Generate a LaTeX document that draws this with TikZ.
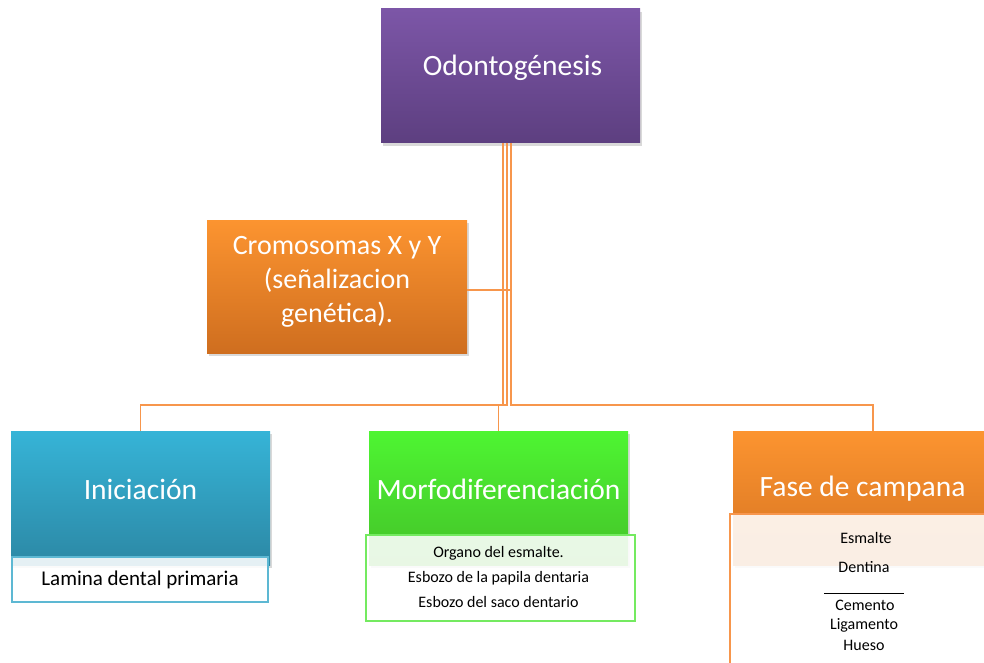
\documentclass[tikz,border=0pt]{standalone}
\usepackage{fontspec}
\setmainfont{Carlito}
\usetikzlibrary{positioning,shadows}

\definecolor{moradoA}{HTML}{7C56A7}
\definecolor{moradoB}{HTML}{5D3F80}
\definecolor{naranjaA}{HTML}{FC9430}
\definecolor{naranjaB}{HTML}{CF6E1F}
\definecolor{azulA}{HTML}{36B4D7}
\definecolor{azulB}{HTML}{2C88A5}
\definecolor{verdeA}{HTML}{4EF532}
\definecolor{verdeB}{HTML}{44C229}
\definecolor{lineaNar}{HTML}{F7964C}
\definecolor{bordeAzul}{HTML}{5DB8D3}
\definecolor{bordeVerde}{HTML}{74EA60}

\tikzset{
  caja/.style={rectangle, inner sep=0pt, minimum width=259pt, minimum height=134pt,
    drop shadow={opacity=0.3, shadow xshift=1.5pt, shadow yshift=-3pt}},
  rotulo/.style={text=white, font=\fontsize{29.5}{34}\selectfont, align=center},
  subcaja/.style={rectangle, inner sep=0pt, fill=white, fill opacity=0.88, line width=1.5pt},
  item/.style={text=black, font=\fontsize{16}{18}\selectfont},
  linea/.style={draw=lineaNar, line width=1.6pt},
}

\begin{document}
\begin{tikzpicture}[x=1pt,y=-1pt]
  \useasboundingbox (0,0) rectangle (984,663);

  \def\xi{140.5};
  \def\xm{498.5};
  \def\xf{873};
  \def\yb{498};

  % boxes
  \node[caja, top color=moradoA, bottom color=moradoB,
        label={[rotulo, name=odontoT, yshift=8pt, xshift=2pt]center:Odontogénesis}]
        (odonto) at (510.5,76) {};
  \node[caja, minimum width=260pt, minimum height=133pt, top color=naranjaA, bottom color=naranjaB,
        label={[rotulo, name=cromT, yshift=5pt, font=\fontsize{28}{34}\selectfont]center:Cromosomas X y Y\\(señalizacion\\genética).}]
        (crom) at (337,286.5) {};

  \node[caja, top color=azulA, bottom color=azulB,
        label={[rotulo, name=iniT, yshift=9pt]center:Iniciación}]
        (ini) at (\xi,\yb) {};
  \node[caja, top color=verdeA, bottom color=verdeB,
        label={[rotulo, name=morfoT, yshift=9pt]center:Morfodiferenciación}]
        (morfo) at (\xm,\yb) {};
  \node[caja, minimum width=280pt, top color=naranjaA, bottom color=naranjaB!85!naranjaA,
        label={[rotulo, name=faseT, yshift=9pt, xshift=-10.5pt]center:Fase de campana}]
        (fase) at (\xf,\yb) {};

  % sub boxes
  \node[subcaja, draw=bordeAzul, minimum width=256pt, minimum height=45pt] (lamina) at (140,579.5) {};
  \node[item, font=\fontsize{21}{24}\selectfont] (laminaT) at (lamina) {Lamina dental primaria};

  \node[subcaja, draw=bordeVerde, minimum width=269pt, minimum height=86pt] (morfoSub) at (500.5,578) {};
  \node[item] (organo) at (\xm,553) {Organo del esmalte.};
  \node[item] (papila) at (\xm,578) {Esbozo de la papila dentaria};
  \node[item] (saco) at (\xm,602) {Esbozo del saco dentario};

  \node[subcaja, draw=lineaNar, minimum width=270pt, minimum height=180pt] (faseSub) at (865,604) {};
  \node[item] (esmalte) at (866,538) {Esmalte};
  \node[item] (dentina) at (864,567) {Dentina};
  \node[inner sep=0pt] (raya) at (864,593) {\rule{80pt}{0.6pt}};
  \node[item] (cemento) at (865,605) {Cemento};
  \node[item] (ligam) at (864,625) {Ligamento};
  \node[item] (hueso) at (864,645) {Hueso};

  % connectors
  \coordinate (cromR) at ([yshift=-3.5pt]crom.east);
  \draw[linea] ([xshift=-7.5pt]odonto.south) |- ([yshift=26pt]ini.north) -- (ini.north);
  \draw[linea] ([xshift=-3.5pt]odonto.south) |- ([yshift=26pt]morfo.north) -- (morfo.north);
  \draw[linea] ([xshift=0.5pt]odonto.south) |- ([yshift=26pt]fase.north) -- (fase.north);
  \draw[linea] (cromR) -- ([xshift=0.5pt]odonto.south |- cromR);
\end{tikzpicture}
\end{document}
